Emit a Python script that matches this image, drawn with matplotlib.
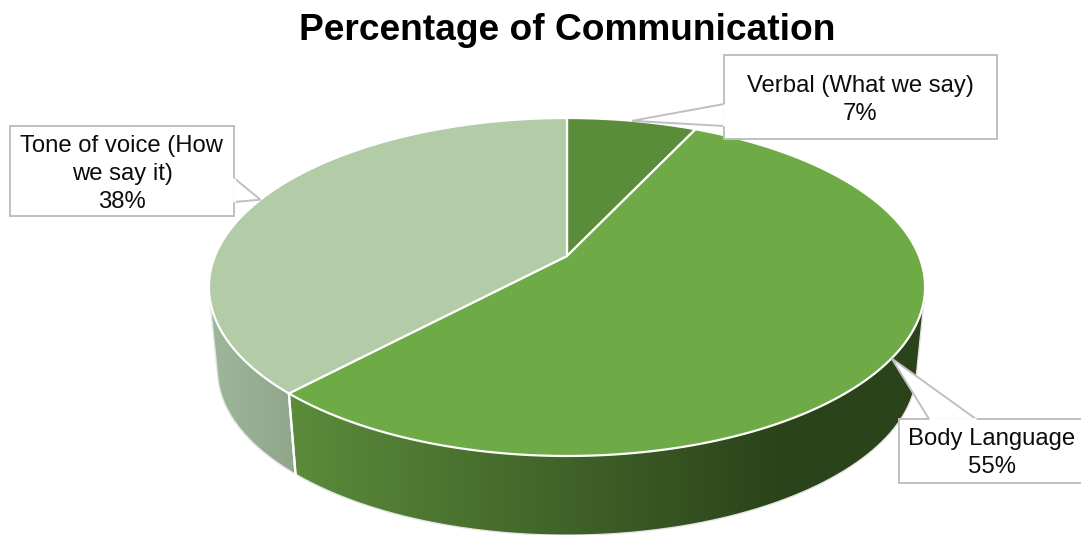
import numpy as np
import matplotlib
matplotlib.use("Agg")
import matplotlib.pyplot as plt
from matplotlib.colors import LinearSegmentedColormap
from matplotlib.patches import Polygon

# Chart data, clockwise from twelve o'clock
categories = ["Verbal (What we say)", "Body Language", "Tone of voice (How\nwe say it)"]
values = [7, 55, 38]
title = "Percentage of Communication"

top_colors = ["#5b8c3a", "#6eab47", "#b1cca6"]
side_ramps = {1: ["#5b8c3b", "#2b431a"], 2: ["#9db598", "#8fa68a"]}
side_spans = {1: (290, 780), 2: (215, 297)}

# Perspective disc: the apex and tilt of the top face in pixel coordinates
APEX = (567.0, 256.0)
TILT = 0.1834
RX, RY = 352.0, 163.3
DEPTH_Y = 84.0
DEPTH_SCALE = 0.976
FRONT_START, FRONT_END = 103.0, 257.0


def rim(theta_deg, lower=False):
    """Pixel position of a rim point, angle measured clockwise from the top."""
    t = np.radians(theta_deg)
    s = DEPTH_SCALE if lower else 1.0
    dy = DEPTH_Y if lower else 0.0
    w = 1 + TILT * np.cos(t)
    return (APEX[0] + s * RX * np.sin(t) / w,
            APEX[1] + dy - s * RY * np.cos(t) / w)


fig = plt.figure(figsize=(10.81, 5.35), dpi=100, facecolor="white")
ax = fig.add_axes([0, 0, 1, 1])
ax.set_xlim(0, 1081)
ax.set_ylim(535, 0)
ax.axis("off")

# Slice boundaries in degrees
edges = np.concatenate([[0], np.cumsum(values)]) / sum(values) * 360.0

# Side wall of each slice that faces the viewer, shaded left to right
for i in side_ramps:
    a = max(edges[i], FRONT_START)
    b = min(edges[i + 1], FRONT_END)
    th = np.linspace(a, b, 160)
    tx, ty = rim(th)
    bx, by = rim(th[::-1], lower=True)
    pts = np.column_stack([np.r_[tx, bx], np.r_[ty, by]])
    wall = Polygon(pts, closed=True, facecolor="none", edgecolor="none")
    ax.add_patch(wall)
    cmap = LinearSegmentedColormap.from_list("wall", side_ramps[i], N=512)
    x0, x1 = side_spans[i]
    grad = np.clip((np.arange(0, 1081) - x0) / (x1 - x0), 0, 1)[None, :]
    img = ax.imshow(grad, cmap=cmap, vmin=0, vmax=1, aspect="auto",
                    extent=(0, 1081, 535, 0), zorder=1.5, interpolation="bilinear")
    img.set_clip_path(wall)
    ax.plot(bx, by, color="#e4e4e4", lw=1.0, zorder=1.6)
    # One end of each wall is the outer silhouette, the other the slice boundary
    for j, k in ((0, -1), (-1, 0)):
        boundary = np.isclose(th[j], edges[2])
        ax.plot([tx[j], bx[k]], [ty[j], by[k]],
                color="white" if boundary else "#e4e4e4",
                lw=1.6 if boundary else 1.0, zorder=1.7)
ax.set_xlim(0, 1081)
ax.set_ylim(535, 0)

# Top face of each slice
for i, color in enumerate(top_colors):
    th = np.linspace(edges[i], edges[i + 1], 240)
    rx, ry = rim(th)
    pts = np.column_stack([np.r_[APEX[0], rx], np.r_[APEX[1], ry]])
    ax.add_patch(Polygon(pts, closed=True, facecolor=color, edgecolor="white",
                         lw=1.6, joinstyle="round", zorder=2))

# Callout boxes: left, top, right, bottom, and where the pointer leaves the box
boxes = [(724, 55, 997, 139), (899, 419, 1095, 483), (10, 126, 234, 216)]
pointer_bases = [((724, 104), (724, 126)), ((976, 419), (929, 419)), ((234, 202), (234, 178))]
label_centers = [(860.5, 100), (992, 453), (122, 174)]
GREY = "#bfbfbf"

for i, name in enumerate(categories):
    mid = (edges[i] + edges[i + 1]) / 2
    tip = rim(mid)
    l, t, r, b = boxes[i]
    p, q = pointer_bases[i]
    ax.add_patch(Polygon([p, tip, q], closed=True, facecolor="white", edgecolor=GREY,
                         lw=1.4, zorder=3, joinstyle="miter"))
    ax.add_patch(Polygon([(l, t), (r, t), (r, b), (l, b)], closed=True, facecolor="white",
                         edgecolor=GREY, lw=1.4, zorder=3.1, clip_on=True))
    # Hide the stretch of box outline where the pointer joins it
    ax.plot([p[0], q[0]], [p[1], q[1]], color="white", lw=2.0, zorder=3.2,
            solid_capstyle="butt")
    ax.text(*label_centers[i], f"{name}\n{values[i]}%", ha="center", va="center",
            fontsize=17.2, family="Liberation Sans", color="#0d0d0d",
            linespacing=1.33, zorder=4)

ax.text(567, 31, title, ha="center", va="center", fontsize=26.75,
        fontweight="bold", family="Liberation Sans", color="black", zorder=4)

fig.savefig("out.png", dpi=100, facecolor="white")
